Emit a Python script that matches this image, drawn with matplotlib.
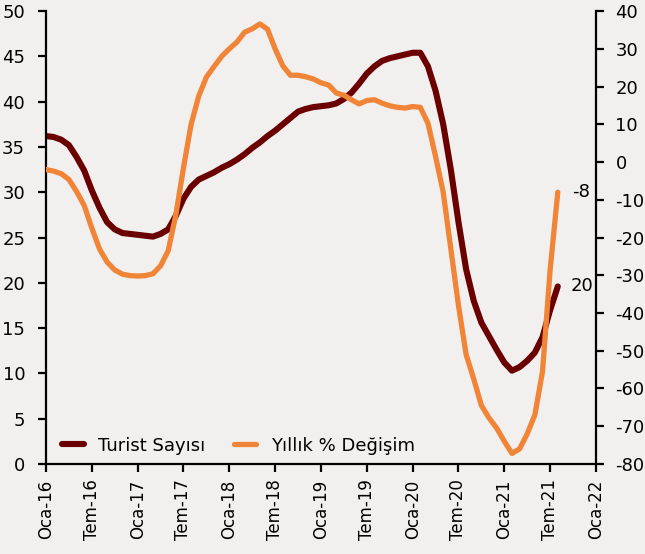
import numpy as np
import matplotlib
matplotlib.use("Agg")
from matplotlib import pyplot as plt

# monthly, Oca-16 .. Agu-21
turist = [36.2, 36.1, 35.8, 35.2, 33.9, 32.4, 30.2, 28.3, 26.7, 25.9, 25.5, 25.4,
          25.3, 25.2, 25.1, 25.4, 25.9, 27.4, 29.3, 30.6, 31.4, 31.8, 32.2, 32.7,
          33.1, 33.6, 34.2, 34.9, 35.5, 36.2, 36.8, 37.5, 38.2, 38.9, 39.2, 39.4,
          39.5, 39.6, 39.8, 40.3, 41.0, 42.0, 43.1, 43.9, 44.5, 44.8, 45.0, 45.2,
          45.4, 45.4, 43.9, 41.2, 37.5, 32.5, 26.7, 21.5, 18.0, 15.6, 14.1, 12.6,
          11.2, 10.3, 10.7, 11.4, 12.3, 14.0, 17.0, 19.6]
yillik = [-2.0, -2.4, -3.1, -4.6, -7.8, -11.5, -17.5, -23.0, -26.5, -28.6, -29.7, -30.1,
          -30.2, -30.1, -29.6, -27.5, -23.5, -14.0, -1.5, 10.0, 17.5, 22.5, 25.3, 28.0,
          30.0, 31.8, 34.4, 35.3, 36.6, 35.2, 30.0, 25.5, 23.0, 23.0, 22.6, 22.0,
          21.0, 20.4, 18.3, 17.7, 16.5, 15.4, 16.3, 16.5, 15.6, 14.9, 14.5, 14.3,
          14.7, 14.5, 10.3, 1.5, -8.0, -23.0, -38.0, -51.0, -57.5, -64.5, -67.8, -70.5,
          -74.0, -77.2, -76.0, -72.0, -67.0, -55.5, -28.5, -8.0]
tick_labels = ["Oca-16", "Tem-16", "Oca-17", "Tem-17", "Oca-18", "Tem-18", "Oca-19",
               "Tem-19", "Oca-20", "Tem-20", "Oca-21", "Tem-21", "Oca-22"]

bg = "#f2f0ef"
dark = "#6a0000"
orange = "#f08437"
plt.rcParams["font.family"] = ["DejaVu Sans"]
plt.rcParams["font.size"] = 13
plt.rcParams["axes.unicode_minus"] = False

x = np.arange(len(turist))

fig = plt.figure(figsize=(6.45, 5.54), dpi=100, facecolor=bg)
ax = fig.add_axes([0.0713, 0.1625, 0.8527, 0.8175], facecolor=bg)
ax2 = ax.twinx()

l1, = ax.plot(x, turist, color=dark, lw=4.4, solid_capstyle="round", solid_joinstyle="round",
              label="Turist Sayısı")
l2, = ax2.plot(x, yillik, color=orange, lw=3.8, solid_capstyle="round", solid_joinstyle="round",
               label="Yıllık % Değişim")

ax.set_xlim(0, 72)
ax.set_ylim(0, 50)
ax.set_yticks(np.arange(0, 51, 5))
ax2.set_ylim(-80, 40)
ax2.set_yticks(np.arange(-80, 41, 10))
ax.set_xticks(np.arange(0, 73, 6))
ax.set_xticklabels(tick_labels, rotation=90, fontsize=12)

for a in (ax, ax2):
    a.spines["top"].set_visible(False)
    for s in ("left", "right", "bottom"):
        a.spines[s].set_linewidth(1.6)
    a.tick_params(width=1.6, length=6, colors="black")
ax.tick_params(axis="y", pad=9)
ax.tick_params(axis="x", pad=5)
ax2.tick_params(axis="y", pad=8)
ax.spines["right"].set_visible(False)
ax2.spines["left"].set_visible(False)
ax2.spines["bottom"].set_visible(False)

ax.annotate("20", (x[-1], turist[-1]), xytext=(9, 0), textcoords="offset points",
            ha="left", va="center")
ax2.annotate("-8", (x[-1], yillik[-1]), xytext=(10, 0), textcoords="offset points",
             ha="left", va="center")

ax2.legend(handles=[l1, l2], loc="lower left", bbox_to_anchor=(0.0, -0.015), ncol=2,
           frameon=False, handlelength=1.2, columnspacing=1.6, handletextpad=0.8)

fig.savefig("out.png", dpi=100, facecolor=bg)
